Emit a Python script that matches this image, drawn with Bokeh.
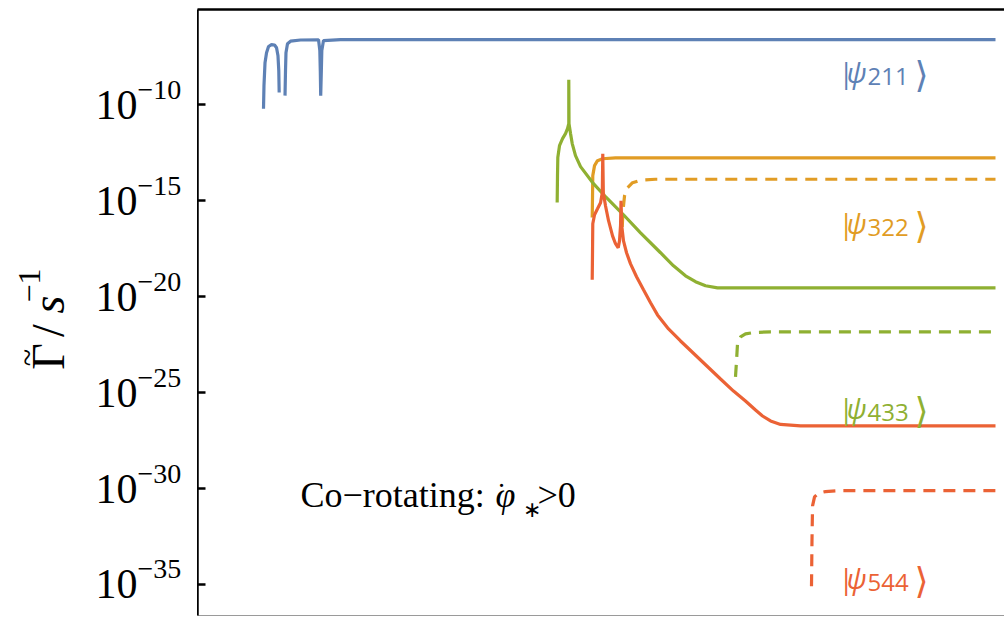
import numpy as np
from bokeh.plotting import figure
from bokeh.layouts import row
from bokeh.models import Range1d, LinearAxis, FixedTicker, Label
from bokeh.embed import file_html
from bokeh.resources import INLINE

NaN = float("nan")

# ---------------- data (x: arbitrary units, y: log10 of Gamma-tilde in s^-1) ----------------
psi211_x = [8.25, 8.31, 8.44, 8.63, 8.88, 9.25, 9.63, 9.88, 10.06, 10.16, 10.21, NaN,
            10.94, 11.00, 11.06, 11.25, 11.63, 12.88, 15.13, 15.29, 15.35, 15.40, 15.48,
            15.54, 15.75, 17.88, 99.75]
psi211_log = [-10.20, -9.00, -7.80, -7.28, -6.96, -6.86, -6.88, -7.02, -7.44, -8.22, -9.36, NaN,
              -9.52, -8.22, -7.28, -6.81, -6.68, -6.62, -6.61, -7.17, -8.22, -9.52, -8.22,
              -7.17, -6.65, -6.60, -6.60]

psi433_x = [44.96, 45.00, 45.04, 45.25, 45.63, 46.00, 46.25, 46.41, 46.41, 46.44, 46.63, 46.84,
            47.25, 47.88, 49.50, 51.00, 53.25, 55.38, 57.88, 59.50, 61.00, 62.25, 63.50,
            65.00, 67.88, 99.75]
psi433_log = [-15.09, -13.69, -12.74, -12.13, -11.76, -11.50, -11.24, -10.98, -8.69, -10.98,
              -11.50, -12.02, -12.65, -13.22, -14.11, -14.79, -15.73, -16.67, -17.71, -18.39,
              -18.91, -19.22, -19.43, -19.54, -19.54, -19.54]

psi433d_x = [67.25, 67.38, 67.50, 67.88, 68.50, 69.50, 71.63, 99.75]
psi433d_log = [-24.18, -23.34, -22.46, -22.10, -21.94, -21.87, -21.83, -21.83]

psi322_x = [49.34, 49.38, 49.41, 49.63, 50.00, 50.63, 52.25, 99.75]
psi322_log = [-15.87, -14.74, -13.69, -13.17, -12.91, -12.81, -12.76, -12.76]

psi322d_x = [53.09, 53.19, 53.38, 53.75, 54.38, 55.38, 57.25, 99.75]
psi322d_log = [-16.36, -15.52, -14.74, -14.32, -14.06, -13.93, -13.88, -13.88]

psi544_x = [49.34, 49.38, 49.41, 49.63, 50.00, 50.38, 50.60, 50.66, 50.73, 51.00, 51.38,
            51.88, 52.25, 52.59, 52.75, 52.88, 52.94, 53.03, 53.25, 53.63, 54.13, 54.88,
            55.75, 56.63, 57.50, 58.88, 60.38, 62.88, 65.38, 67.00, 68.50, 69.75, 70.63,
            71.63, 72.88, 75.38, 99.75]
psi544_log = [-19.12, -17.61, -16.20, -15.73, -15.42, -15.10, -14.58, -12.55, -14.58, -15.26,
              -16.04, -16.83, -17.24, -17.45, -17.09, -16.30, -15.00, -16.30, -17.09, -17.71,
              -18.29, -18.96, -19.64, -20.32, -20.95, -21.68, -22.31, -23.30, -24.29, -24.92,
              -25.44, -25.91, -26.22, -26.48, -26.66, -26.74, -26.74]

psi544d_x = [76.75, 76.81, 76.88, 77.13, 77.63, 78.50, 80.38, 99.75]
psi544d_log = [-35.09, -32.74, -30.91, -30.44, -30.24, -30.16, -30.11, -30.11]

tick_exps = [-10, -15, -20, -25, -30, -35]
state_names = ["211", "322", "433", "544"]

BLUE, ORANGE, GREEN, RED = "#5E81B5", "#E19C24", "#8FB032", "#EB6235"
SERIF = "Liberation Serif"
SANS = "Open Sans"

def G(logs):
    return 10.0 ** np.array(logs, dtype=float)

W, H = 1004, 617
FL, FT, FB = 197, 9, 615   # frame left / top / bottom in page pixels
yr = Range1d(10.0 ** -36.62, 10.0 ** -5.03)

# ---------- left panel: tick labels and axis title ----------
lf = figure(width=FL, height=H, output_backend="svg", toolbar_location=None,
            y_axis_type="log", x_range=Range1d(0, 1), y_range=yr,
            min_border_left=0, min_border_right=0, min_border_top=FT,
            min_border_bottom=H - FB, x_axis_location=None, y_axis_location=None)
lf.outline_line_color = None
lf.grid.visible = False
lf.background_fill_color = "white"
lf.border_fill_color = "white"

# ---------- main panel ----------
p = figure(width=W - FL, height=H, output_backend="svg", toolbar_location=None,
           y_axis_type="log", x_range=Range1d(0, 100.875), y_range=yr,
           min_border_left=0, min_border_right=0, min_border_top=FT,
           min_border_bottom=H - FB, x_axis_location=None)
p.outline_line_color = None
p.grid.visible = False
p.background_fill_color = "white"
p.border_fill_color = "white"

def hide_labels(ax):
    ax.major_label_text_font_size = "1px"
    ax.major_label_text_alpha = 0
    ax.major_label_standoff = 0

ya = p.yaxis[0]
ya.ticker = FixedTicker(ticks=[10.0 ** e for e in tick_exps], minor_ticks=[])
hide_labels(ya)
ya.major_tick_in = 8
ya.major_tick_out = 0
ya.minor_tick_in = 0
ya.minor_tick_out = 0
ya.axis_line_width = 2.5
ya.major_tick_line_width = 2.5
ya.axis_line_color = "black"
ya.major_tick_line_color = "black"

def frame_axis(color, width):
    ax = LinearAxis(ticker=FixedTicker(ticks=[-1000.0]))
    hide_labels(ax)
    ax.major_tick_in = 0
    ax.major_tick_out = 0
    ax.minor_tick_in = 0
    ax.minor_tick_out = 0
    ax.axis_line_color = color
    ax.axis_line_width = width
    return ax

p.add_layout(frame_axis("black", 2.5), "above")
p.add_layout(frame_axis("#9a9a9a", 1), "below")

LW = 3.2
p.line(psi211_x, G(psi211_log), line_color=BLUE, line_width=LW)
p.line(psi322_x, G(psi322_log), line_color=ORANGE, line_width=LW)
p.line(psi322d_x, G(psi322d_log), line_color=ORANGE, line_width=LW, line_dash="12 8")
p.line(psi433_x, G(psi433_log), line_color=GREEN, line_width=LW)
p.line(psi433d_x, G(psi433d_log), line_color=GREEN, line_width=LW, line_dash="12 8")
p.line(psi544_x, G(psi544_log), line_color=RED, line_width=LW)
p.line(psi544d_x, G(psi544d_log), line_color=RED, line_width=LW, line_dash="12 8")

def lab(fig, left, px, py, text, size, font=SERIF, style="normal", color="black",
        align="left", baseline="alphabetic", angle=0.0):
    # screen-unit labels are measured from the frame's lower-left corner
    fig.add_layout(Label(x=px - left, y=FB - py, x_units="screen", y_units="screen",
                         text=text, text_align=align, text_baseline=baseline, angle=angle,
                         text_font=font, text_font_style=style, text_font_size=size,
                         text_color=color))

# tick labels 10^{n}
for e in tick_exps:
    lf.add_layout(Label(x=137, y=10.0 ** e, x_units="screen", y_units="data", text="10",
                        text_align="right", text_baseline="alphabetic", y_offset=0,
                        text_font=SERIF, text_font_size="42px", text_color="black"))
    lf.add_layout(Label(x=137, y=10.0 ** e, x_units="screen", y_units="data",
                        text="\u2212" + str(-e), text_align="left", text_baseline="alphabetic",
                        y_offset=15, text_font=SERIF, text_font_size="28px", text_color="black"))

# y axis title  Γ̃/s^{-1}
ang = np.pi / 2
lab(lf, 0, 48, 356, "\u0393", "46px", angle=ang, align="center")
lab(lf, 0, 26, 357, "~", "32px", angle=ang, align="center")
lab(lf, 0, 48, 330, "/", "46px", angle=ang, align="center")
lab(lf, 0, 48, 304, "s", "46px", style="italic", angle=ang, align="center")
lab(lf, 0, 29, 285, "\u22121", "32px", angle=ang, align="center")

# state labels |ψ_nlm⟩
state_colors = [BLUE, ORANGE, GREEN, RED]
state_base = [71, 222, 407, 577]
for name, col, b in zip(state_names, state_colors, state_base):
    lab(p, FL, 838, b, "|", "28px", font=SANS, color=col)
    lab(p, FL, 846, b, "\u03c8", "28px", font=SANS, style="italic", color=col)
    lab(p, FL, 867, b + 5, name, "24px", font=SANS, color=col)
    lab(p, FL, 914, b + 3, "\u27e9", "36px", font="DejaVu Sans", color=col)

# annotation  Co−rotating: φ̇_* > 0
lab(p, FL, 300, 494, "Co\u2212rotating:", "36px")
lab(p, FL, 495, 494, "\u03c6", "36px", style="italic")
lab(p, FL, 501, 493, "\u02d9", "30px", align="center")
lab(p, FL, 522, 509, "\u2217", "22px")
lab(p, FL, 537, 494, ">0", "36px")

layout = row(lf, p)
open("out.html", "w").write(file_html(layout, INLINE))
